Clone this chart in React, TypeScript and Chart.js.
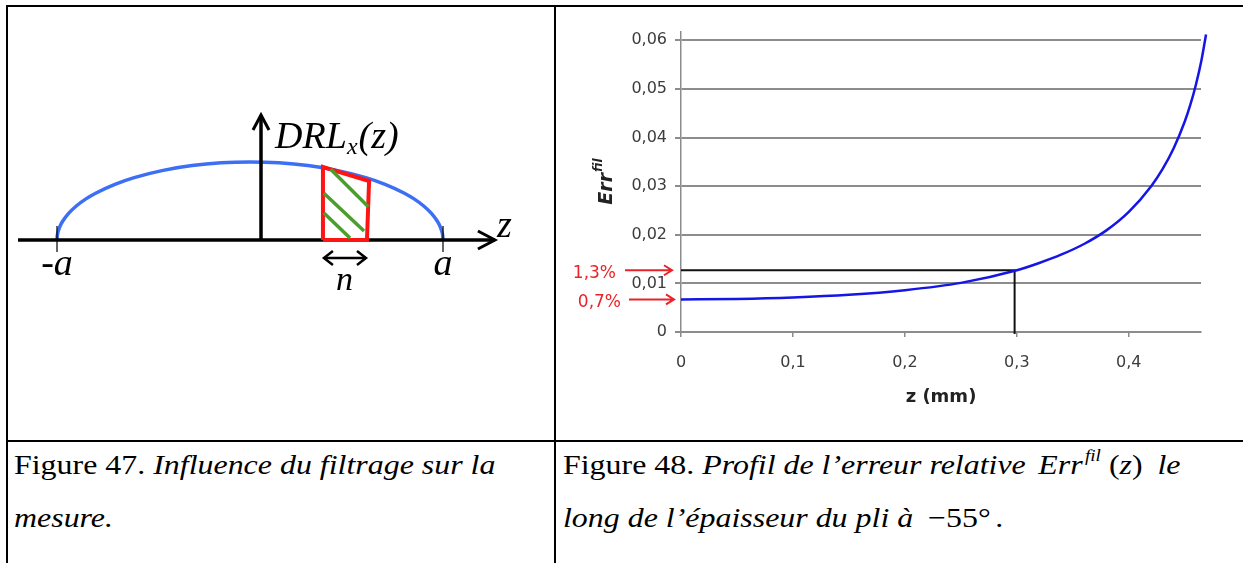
import React, { useEffect, useRef } from "react";
import { Chart, registerables } from "chart.js";
Chart.register(...registerables);

// ---------- Right chart (Figure 48) data ----------
const zValues = [0, 0.05, 0.1, 0.15, 0.2, 0.25, 0.3, 0.32, 0.34, 0.36, 0.38, 0.4, 0.42, 0.43, 0.44, 0.45, 0.455, 0.46, 0.465, 0.469];
const errValues = [0.0067, 0.0068, 0.0071, 0.00765, 0.0086, 0.0101, 0.0127, 0.0142, 0.01595, 0.0181, 0.0209, 0.0247, 0.03, 0.03345, 0.03775, 0.0433, 0.04675, 0.0509, 0.056, 0.0612];
const markerZ = [0, 0.298, 0.298];
const markerErr = [0.0127, 0.0127, -0.0004];
const arrowLabels = ["1,3%", "0,7%"];
const arrowValues = [0.0127, 0.0067];
const yTitle = "Err";
const yTitleSup = "fil";
const xTitle = "z (mm)";
const zMax = 0.4645;

// ---------- Left diagram (Figure 47) data, in units of a ----------
const ellipseZ = [-1, -0.999, -0.995, -0.985, -0.97, -0.94, -0.9, -0.85, -0.8, -0.7, -0.6, -0.45, -0.3, -0.15, 0, 0.15, 0.3, 0.45, 0.6, 0.7, 0.8, 0.85, 0.9, 0.94, 0.97, 0.985, 0.995, 0.999, 1];
const ellipseH = [0, 0.045, 0.1, 0.173, 0.243, 0.341, 0.436, 0.527, 0.6, 0.714, 0.8, 0.893, 0.954, 0.989, 1, 0.989, 0.954, 0.893, 0.8, 0.714, 0.6, 0.527, 0.436, 0.341, 0.243, 0.173, 0.1, 0.045, 0];
const bandZ = [0.378, 0.378, 0.617, 0.606, 0.378];
const bandH = [0, 0.935, 0.756, 0, 0];
const hatchZ = [[0.418, 0.613], [0.383, 0.591], [0.383, 0.518]];
const hatchH = [[0.906, 0.427], [0.599, 0.115], [0.346, 0.026]];
const zAxisZ = [-1.202, 1.269];
const drlAxisZ = [0.057, 0.057];
const drlAxisH = [0, 1.603];
const boundZ = [-1, 1];
const boundH = [0.18, -0.154];
const nArrowZ = [0.383, 0.601];
const nArrowH = -0.231;

const serif = '"Liberation Serif", "Times New Roman", serif';
const sans = '"DejaVu Sans", sans-serif';

const pts = (xs: number[], ys: number[]) => xs.map((x, i) => ({ x, y: ys[i] }));

const leftDecor = {
  id: "leftDecor",
  afterDraw(chart: any) {
    const { ctx, scales } = chart;
    const px = (v: number) => scales.x.getPixelForValue(v);
    const py = (v: number) => scales.y.getPixelForValue(v);
    ctx.save();
    ctx.strokeStyle = "#000";
    ctx.lineWidth = 3;
    ctx.lineJoin = "miter";
    const tx = px(zAxisZ[1]);
    const ty = py(0);
    ctx.beginPath();
    ctx.moveTo(tx - 17, ty - 9);
    ctx.lineTo(tx, ty);
    ctx.lineTo(tx - 17, ty + 9);
    ctx.stroke();
    const vx = px(drlAxisZ[1]);
    const vy = py(drlAxisH[1]);
    ctx.beginPath();
    ctx.moveTo(vx - 8, vy + 15);
    ctx.lineTo(vx, vy);
    ctx.lineTo(vx + 8, vy + 15);
    ctx.stroke();
    ctx.lineWidth = 2.5;
    const a1 = px(nArrowZ[0]);
    const a2 = px(nArrowZ[1]);
    const ay = py(nArrowH);
    ctx.beginPath();
    ctx.moveTo(a1 + 9, ay - 7);
    ctx.lineTo(a1, ay);
    ctx.lineTo(a1 + 9, ay + 7);
    ctx.moveTo(a2 - 9, ay - 7);
    ctx.lineTo(a2, ay);
    ctx.lineTo(a2 - 9, ay + 7);
    ctx.stroke();
    ctx.fillStyle = "#000";
    ctx.textBaseline = "alphabetic";
    ctx.textAlign = "left";
    const x0 = px(0.13);
    const b = py(1.18);
    ctx.font = `italic 38px ${serif}`;
    ctx.fillText("DRL", x0, b);
    const w1 = ctx.measureText("DRL").width;
    ctx.font = `italic 24px ${serif}`;
    ctx.fillText("x", x0 + w1, b + 6);
    const w2 = ctx.measureText("x").width;
    ctx.font = `italic 38px ${serif}`;
    ctx.fillText("(z)", x0 + w1 + w2 + 1, b);
    ctx.textAlign = "center";
    ctx.fillText("-a", px(boundZ[0]), py(-0.449));
    ctx.fillText("a", px(boundZ[1]), py(-0.449));
    ctx.textAlign = "left";
    ctx.fillText("z", px(1.28), py(0.04));
    ctx.font = `italic 34px ${serif}`;
    ctx.textAlign = "center";
    ctx.fillText("n", px(0.49), py(-0.64));
    ctx.restore();
  },
};

const rightDecor = {
  id: "rightDecor",
  afterDraw(chart: any) {
    const { ctx, chartArea, scales } = chart;
    const ys = scales.y;
    ctx.save();
    ctx.fillStyle = "#222";
    ctx.font = `bold 18px ${sans}`;
    ctx.textAlign = "center";
    ctx.textBaseline = "middle";
    ctx.fillText(xTitle, (chartArea.left + chartArea.right) / 2, chartArea.bottom + 65);
    ctx.save();
    ctx.translate(49, (chartArea.top + chartArea.bottom) / 2);
    ctx.rotate(-Math.PI / 2);
    const f1 = `italic bold 19px ${sans}`;
    const f2 = `italic bold 12px ${sans}`;
    ctx.font = f1;
    const w1 = ctx.measureText(yTitle).width;
    ctx.font = f2;
    const w2 = ctx.measureText(yTitleSup).width;
    const xs = -(w1 + w2) / 2;
    ctx.textAlign = "left";
    ctx.textBaseline = "alphabetic";
    ctx.font = f1;
    ctx.fillText(yTitle, xs, 7);
    ctx.font = f2;
    ctx.fillText(yTitleSup, xs + w1 + 1, -3);
    ctx.restore();
    const textRight = [60, 65];
    const arrowStart = [69, 73];
    const arrowEnd = [116, 118];
    ctx.strokeStyle = "#e8232a";
    ctx.fillStyle = "#e8232a";
    ctx.lineWidth = 2;
    ctx.font = `17px ${sans}`;
    ctx.textAlign = "right";
    ctx.textBaseline = "middle";
    arrowValues.forEach((v, i) => {
      const y = ys.getPixelForValue(v);
      ctx.beginPath();
      ctx.moveTo(arrowStart[i], y);
      ctx.lineTo(arrowEnd[i], y);
      ctx.moveTo(arrowEnd[i] - 8, y - 5);
      ctx.lineTo(arrowEnd[i], y);
      ctx.lineTo(arrowEnd[i] - 8, y + 5);
      ctx.stroke();
      ctx.fillText(arrowLabels[i], textRight[i], y + 3);
    });
    ctx.restore();
  },
};

function LeftDiagram() {
  const ref = useRef<HTMLCanvasElement>(null);
  useEffect(() => {
    const line = (data: any[], color: string, width: number, extra: any = {}) => ({
      data,
      showLine: true,
      borderColor: color,
      borderWidth: width,
      pointRadius: 0,
      tension: 0,
      clip: false,
      borderCapStyle: "butt",
      borderJoinStyle: "miter",
      ...extra,
    });
    const chart = new Chart(ref.current!, {
      type: "scatter",
      data: {
        datasets: [
          ...hatchZ.map((hz, i) => line(pts(hz, hatchH[i]), "#4a9e2e", 3.5)),
          line(pts(bandZ, bandH), "#ff1414", 4),
          line(pts([boundZ[0], boundZ[0]], boundH), "#000", 1.2),
          line(pts([boundZ[1], boundZ[1]], boundH), "#000", 1.2),
          line(pts(nArrowZ, [nArrowH, nArrowH]), "#000", 2.5),
          line(pts(drlAxisZ, drlAxisH), "#000", 3.5),
          line(pts(zAxisZ, [0, 0]), "#000", 3.5),
          line(pts(ellipseZ, ellipseH), "#3d6ff5", 3.5, { cubicInterpolationMode: "monotone" }),
        ],
      },
      options: {
        responsive: false,
        animation: false,
        layout: { padding: 0 },
        plugins: { legend: { display: false }, tooltip: { enabled: false } },
        scales: {
          x: { type: "linear", display: false, min: -1.2539, max: 1.5751 },
          y: { type: "linear", display: false, min: -2.564, max: 2.987 },
        },
      },
      plugins: [leftDecor],
    } as any);
    return () => chart.destroy();
  }, []);
  return <canvas ref={ref} width={546} height={433} style={{ position: "absolute", left: 8, top: 7 }} />;
}

function RightChart() {
  const ref = useRef<HTMLCanvasElement>(null);
  useEffect(() => {
    const grey = "#8c8c8c";
    const chart = new Chart(ref.current!, {
      type: "scatter",
      data: {
        datasets: [
          {
            data: pts(zValues, errValues),
            xAxisID: "x2",
            showLine: true,
            borderColor: "#1515e6",
            borderWidth: 2.5,
            pointRadius: 0,
            cubicInterpolationMode: "monotone",
            clip: false,
          },
          {
            data: pts(markerZ, markerErr),
            showLine: true,
            borderColor: "#111",
            borderWidth: 2,
            pointRadius: 0,
            tension: 0,
            clip: false,
          },
        ],
      },
      options: {
        responsive: false,
        animation: false,
        layout: { padding: { left: 0, right: 40, top: 24, bottom: 0 } },
        plugins: { legend: { display: false }, tooltip: { enabled: false } },
        scales: {
          x: {
            type: "linear",
            min: 0,
            max: zMax,
            afterFit: (s: any) => {
              s.height = 108;
            },
            ticks: {
              stepSize: 0.1,
              includeBounds: false,
              padding: 16,
              color: "#3c3c3c",
              font: { family: "DejaVu Sans", size: 16 },
              callback: (v: any) => (Number(v) === 0 ? "0" : Number(v).toFixed(1).replace(".", ",")),
            },
            grid: { drawOnChartArea: false, drawTicks: true, tickLength: 5, color: grey, lineWidth: 1.5 },
            border: { display: true, color: grey, width: 2 },
          },
          x2: {
            type: "linear",
            position: "bottom",
            display: false,
            bounds: "data",
            afterDataLimits: (s: any) => {
              s.min = 0;
              s.max = zMax;
            },
          },
          y: {
            type: "linear",
            min: 0,
            max: 0.0617,
            afterFit: (s: any) => {
              s.width = 125;
            },
            ticks: {
              stepSize: 0.01,
              includeBounds: false,
              padding: 8,
              color: "#3c3c3c",
              font: { family: "DejaVu Sans", size: 16 },
              callback: (v: any) => (Number(v) === 0 ? "0" : Number(v).toFixed(2).replace(".", ",")),
            },
            grid: { drawOnChartArea: true, drawTicks: true, tickLength: 6, color: grey, lineWidth: 2 },
            border: { display: true, color: grey, width: 1.5 },
          },
        },
      },
      plugins: [rightDecor],
    } as any);
    return () => chart.destroy();
  }, []);
  return <canvas ref={ref} width={685} height={432} style={{ position: "absolute", left: 556, top: 8 }} />;
}

const captionStyle: React.CSSProperties = {
  position: "absolute",
  fontFamily: serif,
  fontSize: 28,
  lineHeight: "28px",
  whiteSpace: "nowrap",
  transform: "scaleX(1.14)",
  transformOrigin: "left top",
  color: "#000",
};

const gap = (w: number) => <span style={{ display: "inline-block", width: w }} />;

export default function App() {
  const bar = (l: number, t: number, w: number, h: number) => (
    <div style={{ position: "absolute", left: l, top: t, width: w, height: h, background: "#000" }} />
  );
  return (
    <div style={{ position: "fixed", left: 0, top: 0, width: 1243, height: 563, background: "#fff", overflow: "hidden" }}>
      {bar(6, 5, 1237, 2)}
      {bar(6, 5, 2, 558)}
      {bar(554, 5, 2, 558)}
      {bar(6, 440, 1237, 2)}
      <LeftDiagram />
      <RightChart />
      <div style={{ ...captionStyle, left: 14, top: 451 }}>
        Figure 47. <i>Influence du filtrage sur la</i>
      </div>
      <div style={{ ...captionStyle, left: 14, top: 504 }}>
        <i>mesure.</i>
      </div>
      <div style={{ ...captionStyle, left: 563, top: 451 }}>
        Figure 48. <i>Profil de l’erreur relative</i>
        {gap(11)}
        <i>Err</i>
        <span style={{ fontSize: "0.6em", fontStyle: "italic", position: "relative", top: "-0.75em", marginLeft: 2 }}>fil</span>
        {gap(7)}(<i>z</i>){gap(13)}
        <i>le</i>
      </div>
      <div style={{ ...captionStyle, left: 563, top: 504 }}>
        <i>long de l’épaisseur du pli à</i>
        {gap(13)}−55°{gap(4)}.
      </div>
    </div>
  );
}
